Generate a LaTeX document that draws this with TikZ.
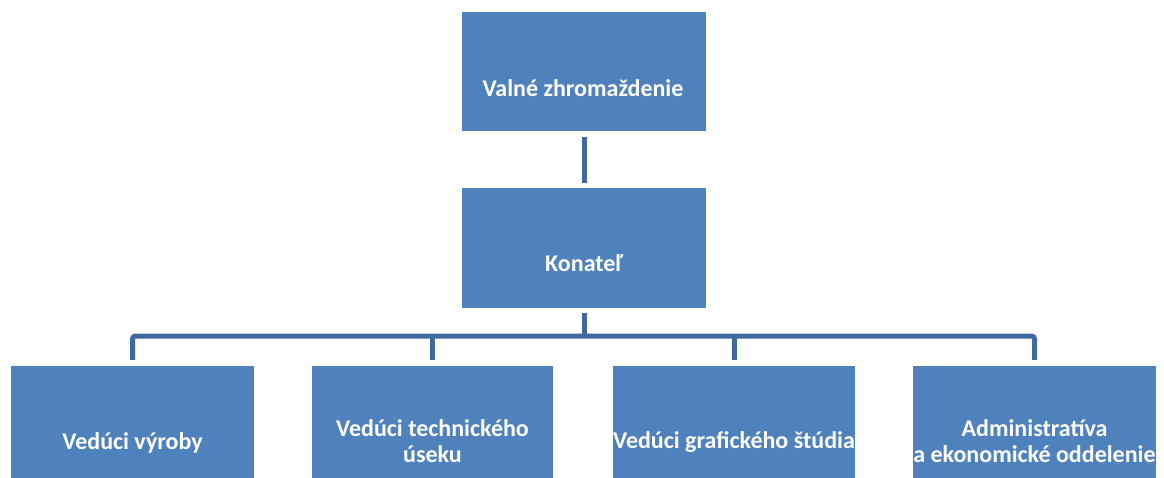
\documentclass[tikz,border=0pt]{standalone}
\usepackage{fontspec}
\setmainfont{Carlito}
\definecolor{boxblue}{HTML}{4F81BD}
\definecolor{lineblue}{HTML}{3E6AA0}
\begin{document}
\begin{tikzpicture}[x=1pt,y=-1pt,
  box/.style={fill=boxblue, draw=none, inner sep=0pt},
  lbl/.style={text=white, font=\fontsize{24}{26.5}\selectfont\bfseries, align=center, inner sep=0pt, anchor=base},
  conn/.style={draw=lineblue, line width=5pt}]
\useasboundingbox (0,0) rectangle (1164,478);
% boxes
\node[box, minimum width=244pt, minimum height=119pt] (vz) at (584,71.5) {};
\node[box, minimum width=244pt, minimum height=120pt] (kon) at (584,248) {};
\node[box, minimum width=243pt, minimum height=112pt] (b1) at (132.5,422) {};
\node[box, minimum width=241pt, minimum height=112pt] (b2) at (432.5,422) {};
\node[box, minimum width=242pt, minimum height=112pt] (b3) at (734,422) {};
\node[box, minimum width=243pt, minimum height=112pt] (b4) at (1034.5,422) {};
% labels
\node[lbl] (tvz) at (583,97) {Valné zhromaždenie};
\node[lbl] (tkon) at (584,272) {Konateľ};
\node[lbl] (t1) at (132.5,449) {Vedúci výroby};
\node[lbl] (t2) at (432.5,462.5) {Vedúci technického\\úseku};
\node[lbl] (t3) at (734,448) {Vedúci grafického štúdia};
\node[lbl] (t4) at (1034.5,462.5) {Administratíva\\a ekonomické oddelenie};
% connectors
\coordinate (bus) at (584,336);
\draw[conn] ([yshift=-6pt]vz.south) -- ([yshift=5pt]kon.north);
\draw[conn] ([yshift=-5pt]kon.south) -- (bus);
\draw[conn, rounded corners=3pt] ([yshift=6pt]b1.north) -- (b1.north |- bus) -- (b4.north |- bus) -- ([yshift=6pt]b4.north);
\draw[conn] (b2.north |- bus) -- ([yshift=6pt]b2.north);
\draw[conn] (b3.north |- bus) -- ([yshift=6pt]b3.north);
\end{tikzpicture}
\end{document}
